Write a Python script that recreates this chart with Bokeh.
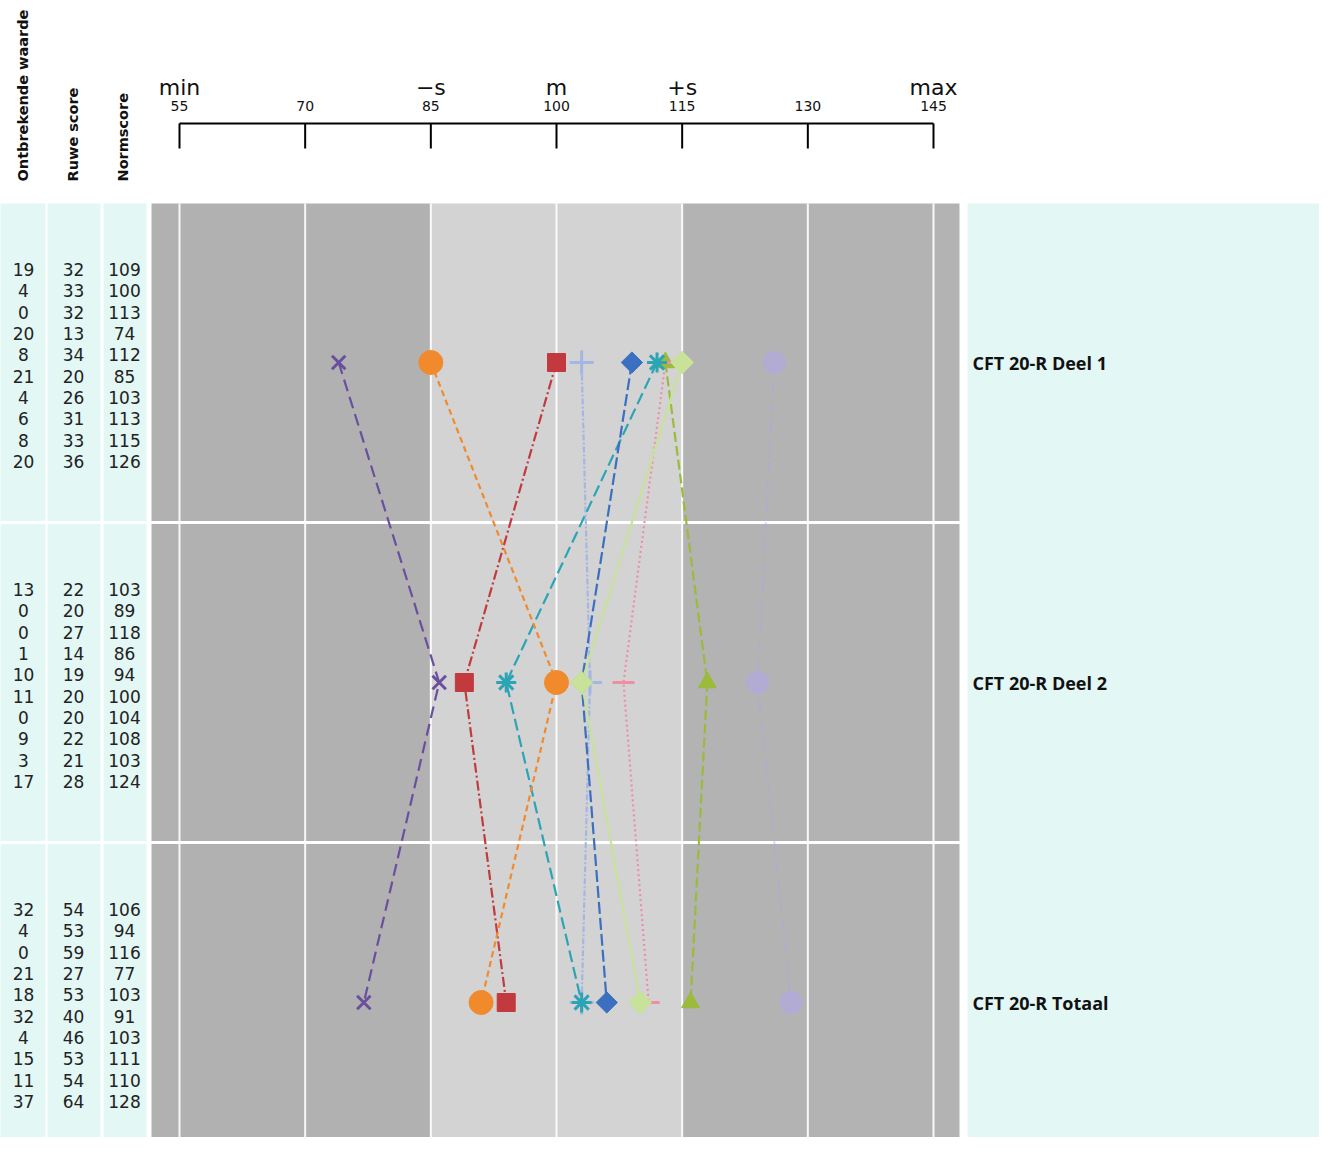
import math
from bokeh.plotting import figure
from bokeh.models import Range1d, ColumnDataSource
from bokeh.core.properties import value
from bokeh.embed import file_html
from bokeh.resources import INLINE

# ---------------- data ----------------
tests = ["CFT 20-R Deel 1", "CFT 20-R Deel 2", "CFT 20-R Totaal"]
col_headers = ["Ontbrekende waarde", "Ruwe score", "Normscore"]

ontbrekende = [
    [19, 4, 0, 20, 8, 21, 4, 6, 8, 20],
    [13, 0, 0, 1, 10, 11, 0, 9, 3, 17],
    [32, 4, 0, 21, 18, 32, 4, 15, 11, 37],
]
ruwe = [
    [32, 33, 32, 13, 34, 20, 26, 31, 33, 36],
    [22, 20, 27, 14, 19, 20, 20, 22, 21, 28],
    [54, 53, 59, 27, 53, 40, 46, 53, 54, 64],
]
norm = [
    [109, 100, 113, 74, 112, 85, 103, 113, 115, 126],
    [103, 89, 118, 86, 94, 100, 104, 108, 103, 124],
    [106, 94, 116, 77, 103, 91, 103, 111, 110, 128],
]

tick_values = [55, 70, 85, 100, 115, 130, 145]
tick_names = ["min", "", "\u2212s", "m", "+s", "", "max"]

# series styles (one per person, same order as table lines)
series_colors = ["#3b6fbf", "#c23a3e", "#9cba3c", "#6b4f9f", "#2ba4b6",
                 "#f18a2d", "#a4b6e4", "#ef8ea3", "#c8e29a", "#b0a6ec"]
series_markers = ["square", "square", "triangle", "x", "asterisk",
                  "circle", "cross", "dash", "square", "circle"]
series_angle = [math.pi / 4, 0, 0, 0, 0, 0, 0, 0, math.pi / 4, 0]
series_dash = ["12 4", "10 3 2 3", "10 4", "12 6", "12 5",
               "6 4", "6 2 2 2", "2 3", "solid", "10 4 2 4"]
series_alpha = [1, 1, 1, 1, 1, 1, 1, 1, 1, 0.55]
series_size = [15, 18, 18, 19, 20, 24, 24, 22, 16, 22]

# ---------------- layout helpers ----------------
W, H = 1319, 1137
PPU = 754.0 / 90.0          # pixels per score unit


def X(px):
    return 55 + (px - 179) / PPU


def Y(py):
    return (py - 362) / 320.0


p = figure(width=W, height=H, output_backend="svg", toolbar_location=None,
           x_range=Range1d(X(0), X(W)),
           y_range=Range1d(Y(H), Y(0)),
           x_axis_location=None, y_axis_location=None,
           min_border=0, background_fill_color="white",
           border_fill_color="white")
p.outline_line_color = None
p.xgrid.visible = False
p.ygrid.visible = False

teal = "#e3f7f5"
bottom = Y(1170)
top = Y(203)

# left table columns
p.quad(left=[X(-5), X(47), X(103)], right=[X(45), X(100), X(146)],
       top=top, bottom=bottom, fill_color=teal, line_color=None)
# right label column
p.quad(left=X(967), right=X(1340), top=top, bottom=bottom,
       fill_color=teal, line_color=None)

# grey plot bands
p.quad(left=[X(151), tick_values[2], tick_values[4]],
       right=[tick_values[2], tick_values[4], X(959)],
       top=top, bottom=bottom,
       fill_color=["#b1b1b1", "#d3d3d3", "#b3b3b3"], line_color=None)
# white vertical lines at ticks
p.segment(x0=tick_values, x1=tick_values, y0=top, y1=bottom,
          line_color="white", line_width=2, line_alpha=0.9)
# white row separators
row_bounds = [r + 0.5 for r in range(len(tests) - 1)]
p.segment(x0=[X(-5)] * len(row_bounds), x1=[X(146)] * len(row_bounds),
          y0=row_bounds, y1=row_bounds, line_color="white", line_width=3)
p.segment(x0=[X(146)] * len(row_bounds), x1=[X(960)] * len(row_bounds),
          y0=row_bounds, y1=row_bounds, line_color="white", line_width=3)

# header axis
ay = Y(123)
p.segment(x0=[tick_values[0]], x1=[tick_values[-1]], y0=[ay], y1=[ay],
          line_color="black", line_width=2)
p.segment(x0=tick_values, x1=tick_values, y0=ay, y1=Y(148),
          line_color="black", line_width=2)
p.text(x=tick_values, y=Y(105), text=[str(t) for t in tick_values],
       text_align="center", text_baseline="middle",
       text_font=value("DejaVu Sans"), text_font_size="14px",
       text_color="#111111")
p.text(x=tick_values, y=Y(87), text=tick_names,
       text_align="center", text_baseline="middle",
       text_font=value("DejaVu Sans"), text_font_size="22px",
       text_color="#111111")

# column headers (rotated)
col_x = [X(23), X(73), X(124)]
p.text(x=[X(22), X(72), X(122)], y=Y(181), text=col_headers,
       angle=math.pi / 2, text_align="left", text_baseline="middle",
       text_font=value("DejaVu Sans"), text_font_size="14.5px",
       text_font_style="bold", text_color="#111111")

# table values
for r in range(len(tests)):
    n = len(norm[r])
    ys = [r + (3 + (k - (n - 1) / 2.0) * 21.33) / 320.0 for k in range(n)]
    for cx, vals in zip(col_x, [ontbrekende[r], ruwe[r], norm[r]]):
        p.text(x=[cx] * n, y=ys, text=[str(v) for v in vals],
               text_align="center", text_baseline="middle",
               text_font=value("DejaVu Sans"), text_font_size="17px",
               text_color="#222222")

# test labels on the right
p.text(x=[X(972)] * len(tests), y=list(range(len(tests))), text=tests,
       text_align="left", text_baseline="middle",
       text_font=value("Open Sans"), text_font_size="18px",
       text_font_style="bold", text_color="#111111")

# profile lines and markers
row_pos = list(range(len(tests)))
order = [9, 2, 6, 7, 4, 0, 8, 1, 5, 3]
for i in order:
    xs = [norm[r][i] for r in range(len(tests))]
    src = ColumnDataSource(dict(x=xs, y=row_pos))
    p.line("x", "y", source=src, line_color=series_colors[i],
           line_width=2.2, line_dash=series_dash[i],
           line_alpha=0.4 if i == 9 else 1)
for i in order:
    xs = [norm[r][i] for r in range(len(tests))]
    src = ColumnDataSource(dict(x=xs, y=row_pos))
    lw = 3 if series_markers[i] in ("x", "asterisk", "cross", "dash") else 1
    p.scatter("x", "y", source=src, marker=series_markers[i],
              size=series_size[i], angle=series_angle[i],
              fill_color=series_colors[i],
              line_color=series_colors[i], line_width=lw,
              alpha=series_alpha[i])

open("out.html", "w").write(file_html(p, INLINE))
